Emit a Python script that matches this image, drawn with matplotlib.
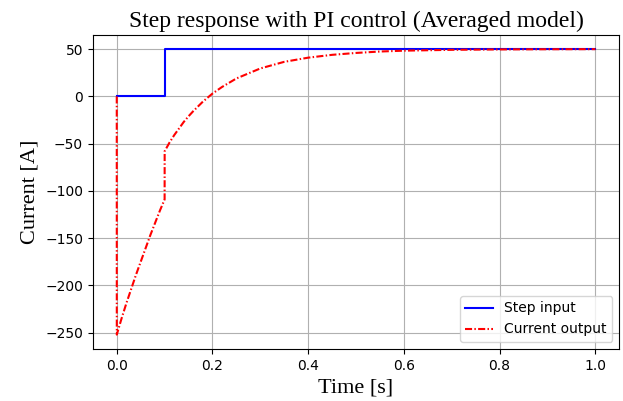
import matplotlib
matplotlib.use("Agg")
import matplotlib.pyplot as plt

# Step input
step_t = [0.0, 0.1, 0.1, 1.0]
step_y = [0.0, 0.0, 50.0, 50.0]

# Current output
out_t = [0.0, 0.0001, 0.01, 0.02, 0.03, 0.04, 0.05, 0.06, 0.07, 0.08, 0.09, 0.1,
         0.1001, 0.11, 0.12, 0.13, 0.14, 0.15, 0.16, 0.18, 0.2, 0.22, 0.25, 0.3,
         0.35, 0.4, 0.45, 0.5, 0.55, 0.6, 0.7, 0.8, 0.9, 1.0]
out_y = [0.0, -252.0, -235.0, -219.0, -204.0, -189.0, -175.0, -161.0, -147.0, -134.0, -121.0, -109.0,
         -58.0, -49.0, -41.0, -34.0, -27.0, -21.0, -15.5, -5.5, 3.0, 10.0, 19.0, 29.6,
         36.6, 41.0, 44.0, 46.0, 47.5, 48.4, 49.3, 49.7, 49.9, 50.0]

fig = plt.figure(figsize=(6.23, 4.01), dpi=100)
ax = fig.add_axes([0.149, 0.130, 0.845, 0.783])
ax.plot(step_t, step_y, color="blue", linestyle="-", linewidth=1.5, label="Step input")
ax.plot(out_t, out_y, color="red", linestyle=(0, (3.4, 1.1, 0.7, 1.1)), linewidth=1.5,
        label="Current output")
ax.grid(True)
ax.set_title("Step response with PI control (Averaged model)", family="Liberation Serif", fontsize=17)
ax.set_xlabel("Time [s]", family="Liberation Serif", fontsize=16)
ax.set_ylabel("Current [A]", family="Liberation Serif", fontsize=16)
ax.legend(loc="lower right")
fig.savefig("out.png", dpi=100)
